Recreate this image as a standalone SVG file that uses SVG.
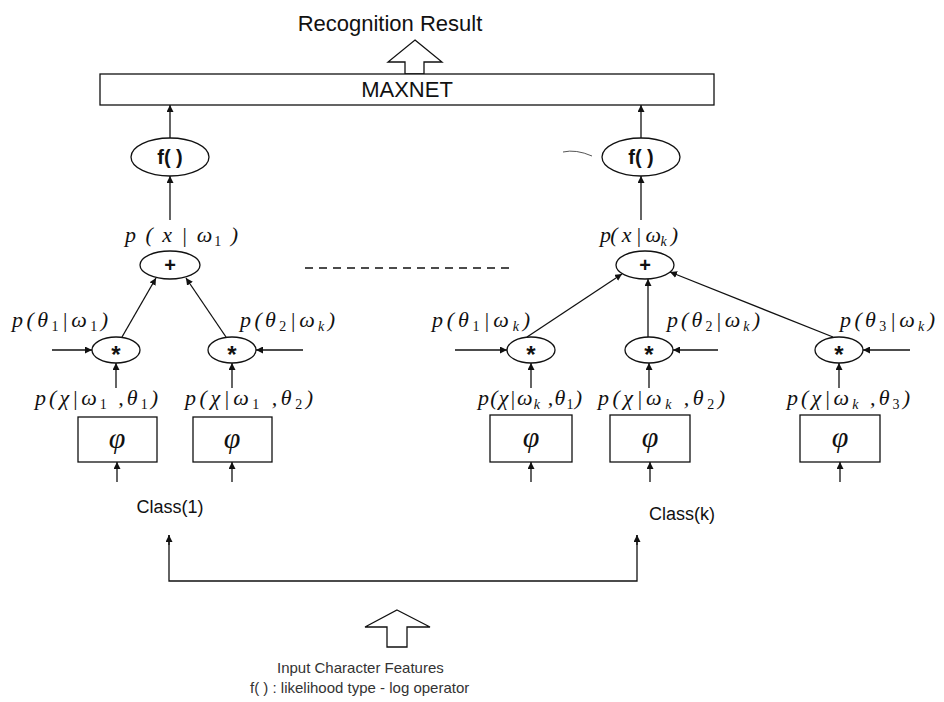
<svg xmlns="http://www.w3.org/2000/svg" width="944" height="702" viewBox="0 0 944 702">
  <style>
    .ln { stroke: #111; stroke-width: 1.3; fill: none; }
    .nd { stroke: #111; stroke-width: 1.3; fill: #fff; }
    .sans { font-family: "Liberation Sans", Arial, sans-serif; fill: #111; }
    .math { font-family: "Liberation Serif", "Times New Roman", serif; font-style: italic; font-size: 22px; fill: #111; }
    .sub { font-size: 14px; font-style: normal; }
    .subk { font-size: 14px; font-style: italic; }
    .phi { font-family: "Liberation Serif", "Times New Roman", serif; font-style: italic; font-size: 30px; fill: #111; }
    .op { font-family: "Liberation Sans", Arial, sans-serif; font-size: 20px; font-weight: bold; fill: #111; }
    .star { font-family: "Liberation Sans", Arial, sans-serif; font-size: 24px; font-weight: bold; fill: #111; }
    .note { font-family: "Liberation Sans", Arial, sans-serif; font-size: 15px; fill: #333; }
  </style>
  <defs>
    <marker id="ah" viewBox="0 0 10 10" refX="10" refY="5" markerWidth="7" markerHeight="7" markerUnits="userSpaceOnUse" orient="auto">
      <path d="M0,0 L10,5 L0,10 z" fill="#111"/>
    </marker>
  </defs>
  <rect width="944" height="702" fill="#fff"/>

  <!-- output -->
  <g id="result">
    <text class="sans" x="390" y="31" font-size="22" text-anchor="middle">Recognition Result</text>
    <polygon class="nd" points="415,40 442,62 424,62 424,74 405,74 405,62 388,62"/>
  </g>
  <g id="maxnet">
    <rect class="nd" x="100" y="74" width="614" height="31"/>
    <text class="sans" x="407" y="97" font-size="22" text-anchor="middle">MAXNET</text>
  </g>

  <!-- class 1 -->
  <g id="f1">
    <ellipse class="nd" cx="170" cy="157" rx="39" ry="19"/>
    <text class="op" x="170" y="164" text-anchor="middle">f( )</text>
  </g>
  <g id="sum1">
    <ellipse class="nd" cx="170" cy="265" rx="30" ry="14"/>
    <text class="op" x="170" y="272" text-anchor="middle">+</text>
  </g>
  <g id="mul11">
    <ellipse class="nd" cx="116" cy="350" rx="24" ry="13"/>
    <text class="star" x="116" y="363" text-anchor="middle">*</text>
  </g>
  <g id="mul12">
    <ellipse class="nd" cx="232" cy="350" rx="24" ry="13"/>
    <text class="star" x="232" y="363" text-anchor="middle">*</text>
  </g>
  <g id="phi11">
    <rect class="nd" x="78" y="417" width="79" height="45"/>
    <text class="phi" x="117" y="448" text-anchor="middle">φ</text>
  </g>
  <g id="phi12">
    <rect class="nd" x="193" y="417" width="79" height="45"/>
    <text class="phi" x="232" y="448" text-anchor="middle">φ</text>
  </g>
  <g id="class1">
    <text class="sans" x="170" y="513" font-size="18" text-anchor="middle">Class(1)</text>
  </g>

  <!-- class k -->
  <g id="fk">
    <ellipse class="nd" cx="641" cy="157" rx="39" ry="19"/>
    <text class="op" x="641" y="164" text-anchor="middle">f( )</text>
  </g>
  <g id="sumk">
    <ellipse class="nd" cx="645" cy="265" rx="29" ry="14"/>
    <text class="op" x="645" y="272" text-anchor="middle">+</text>
  </g>
  <g id="mulk1">
    <ellipse class="nd" cx="531" cy="350" rx="24" ry="13"/>
    <text class="star" x="531" y="363" text-anchor="middle">*</text>
  </g>
  <g id="mulk2">
    <ellipse class="nd" cx="649" cy="350" rx="24" ry="13"/>
    <text class="star" x="649" y="363" text-anchor="middle">*</text>
  </g>
  <g id="mulk3">
    <ellipse class="nd" cx="839" cy="350" rx="24" ry="13"/>
    <text class="star" x="839" y="363" text-anchor="middle">*</text>
  </g>
  <g id="phik1">
    <rect class="nd" x="490" y="415" width="82" height="47"/>
    <text class="phi" x="531" y="447" text-anchor="middle">φ</text>
  </g>
  <g id="phik2">
    <rect class="nd" x="610" y="415" width="80" height="47"/>
    <text class="phi" x="650" y="447" text-anchor="middle">φ</text>
  </g>
  <g id="phik3">
    <rect class="nd" x="800" y="415" width="80" height="47"/>
    <text class="phi" x="840" y="447" text-anchor="middle">φ</text>
  </g>
  <g id="classk">
    <text class="sans" x="682" y="520" font-size="18" text-anchor="middle">Class(k)</text>
  </g>

  <!-- input -->
  <g id="input">
    <polygon class="nd" points="397,610 430,627 407,627 407,647 387,647 387,627 365,627"/>
    <text class="note" x="277" y="673">Input Character Features</text>
    <text class="note" x="250" y="693">f( ) : likelihood type - log operator</text>
  </g>

  <!-- probability labels -->
  <g id="labels">
    <text class="math" x="125" y="242" textLength="113" lengthAdjust="spacing">p ( x | ω<tspan class="sub" dy="4">1</tspan><tspan dy="-4"> )</tspan></text>
    <text class="math" x="600" y="242" textLength="78" lengthAdjust="spacing">p( x | ω<tspan class="subk" dy="4">k</tspan><tspan dy="-4"> )</tspan></text>

    <text class="math" x="12" y="327" textLength="96" lengthAdjust="spacing">p(θ<tspan class="sub" dy="4">1</tspan><tspan dy="-4">|ω</tspan><tspan class="sub" dy="4">1</tspan><tspan dy="-4">)</tspan></text>
    <text class="math" x="240" y="327" textLength="95" lengthAdjust="spacing">p(θ<tspan class="sub" dy="4">2</tspan><tspan dy="-4">|ω</tspan><tspan class="subk" dy="4">k</tspan><tspan dy="-4">)</tspan></text>
    <text class="math" x="432" y="327" textLength="98" lengthAdjust="spacing">p(θ<tspan class="sub" dy="4">1</tspan><tspan dy="-4">|ω</tspan><tspan class="subk" dy="4">k</tspan><tspan dy="-4">)</tspan></text>
    <text class="math" x="667" y="327" textLength="93" lengthAdjust="spacing">p(θ<tspan class="sub" dy="4">2</tspan><tspan dy="-4">|ω</tspan><tspan class="subk" dy="4">k</tspan><tspan dy="-4">)</tspan></text>
    <text class="math" x="840" y="327" textLength="95" lengthAdjust="spacing">p(θ<tspan class="sub" dy="4">3</tspan><tspan dy="-4">|ω</tspan><tspan class="subk" dy="4">k</tspan><tspan dy="-4">)</tspan></text>

    <text class="math" x="35" y="405" textLength="123" lengthAdjust="spacing">p(χ|ω<tspan class="sub" dy="4">1</tspan><tspan dy="-4"> ,θ</tspan><tspan class="sub" dy="4">1</tspan><tspan dy="-4">)</tspan></text>
    <text class="math" x="185" y="405" textLength="128" lengthAdjust="spacing">p(χ|ω<tspan class="sub" dy="4">1</tspan><tspan dy="-4"> ,θ</tspan><tspan class="sub" dy="4">2</tspan><tspan dy="-4">)</tspan></text>
    <text class="math" x="478" y="405" textLength="104" lengthAdjust="spacing">p(χ|ω<tspan class="subk" dy="4">k</tspan><tspan dy="-4"> ,θ</tspan><tspan class="sub" dy="4">1</tspan><tspan dy="-4">)</tspan></text>
    <text class="math" x="598" y="405" textLength="127" lengthAdjust="spacing">p(χ|ω<tspan class="subk" dy="4">k</tspan><tspan dy="-4"> ,θ</tspan><tspan class="sub" dy="4">2</tspan><tspan dy="-4">)</tspan></text>
    <text class="math" x="787" y="405" textLength="123" lengthAdjust="spacing">p(χ|ω<tspan class="subk" dy="4">k</tspan><tspan dy="-4"> ,θ</tspan><tspan class="sub" dy="4">3</tspan><tspan dy="-4">)</tspan></text>
  </g>

  <!-- connectors -->
  <g id="connectors" class="ln">
    <line x1="170" y1="138" x2="170" y2="105" marker-end="url(#ah)"/>
    <line x1="641" y1="138" x2="641" y2="105" marker-end="url(#ah)"/>
    <line x1="170" y1="220" x2="170" y2="176" marker-end="url(#ah)"/>
    <line x1="641" y1="220" x2="641" y2="176" marker-end="url(#ah)"/>

    <line x1="122" y1="337" x2="156" y2="278" marker-end="url(#ah)"/>
    <line x1="226" y1="337" x2="186" y2="278" marker-end="url(#ah)"/>
    <line x1="527" y1="337" x2="622" y2="274" marker-end="url(#ah)"/>
    <line x1="648" y1="337" x2="648" y2="279" marker-end="url(#ah)"/>
    <line x1="833" y1="337" x2="670" y2="272" marker-end="url(#ah)"/>

    <line x1="52" y1="350" x2="92" y2="350" marker-end="url(#ah)"/>
    <line x1="303" y1="350" x2="256" y2="350" marker-end="url(#ah)"/>
    <line x1="455" y1="350" x2="507" y2="350" marker-end="url(#ah)"/>
    <line x1="718" y1="350" x2="673" y2="350" marker-end="url(#ah)"/>
    <line x1="910" y1="350" x2="863" y2="350" marker-end="url(#ah)"/>

    <line x1="116" y1="388" x2="116" y2="363" marker-end="url(#ah)"/>
    <line x1="232" y1="388" x2="232" y2="363" marker-end="url(#ah)"/>
    <line x1="531" y1="388" x2="531" y2="363" marker-end="url(#ah)"/>
    <line x1="649" y1="388" x2="649" y2="363" marker-end="url(#ah)"/>
    <line x1="839" y1="388" x2="839" y2="363" marker-end="url(#ah)"/>

    <line x1="117" y1="482" x2="117" y2="462" marker-end="url(#ah)"/>
    <line x1="232" y1="482" x2="232" y2="462" marker-end="url(#ah)"/>
    <line x1="531" y1="482" x2="531" y2="462" marker-end="url(#ah)"/>
    <line x1="650" y1="482" x2="650" y2="462" marker-end="url(#ah)"/>
    <line x1="840" y1="482" x2="840" y2="462" marker-end="url(#ah)"/>

    <polyline points="169,535 169,581 637,581 637,535"/>
    <line x1="169" y1="545" x2="169" y2="535" marker-end="url(#ah)"/>
    <line x1="637" y1="545" x2="637" y2="535" marker-end="url(#ah)"/>

    <line x1="305" y1="268" x2="515" y2="268" stroke-dasharray="8 6"/>
    <path d="M563,152 Q576,149 592,156" stroke="#555" stroke-width="1"/>
  </g>
</svg>
